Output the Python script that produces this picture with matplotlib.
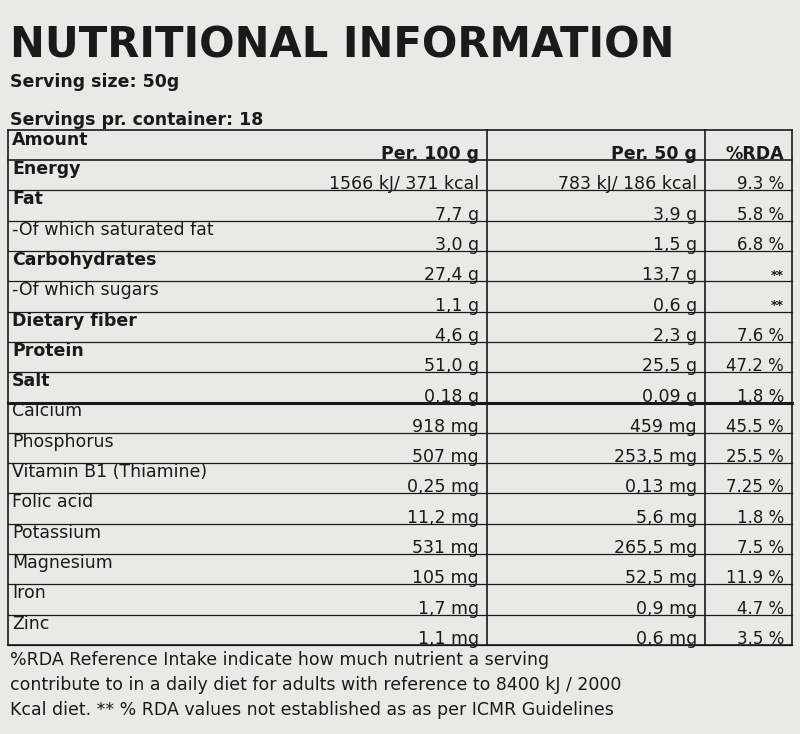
import matplotlib.pyplot as plt

title = "NUTRITIONAL INFORMATION"
serving = ["Serving size: ", "50g"]
servings = ["Servings pr. container: ", "18"]
header = ["Amount", "Per. 100 g", "Per. 50 g", "%RDA"]
labels = ["Energy", "Fat", "-Of which saturated fat", "Carbohydrates", "-Of which sugars",
          "Dietary fiber", "Protein", "Salt", "Calcium", "Phosphorus", "Vitamin B1 (Thiamine)",
          "Folic acid", "Potassium", "Magnesium", "Iron", "Zinc"]
bold_rows = ["Energy", "Fat", "Carbohydrates", "Dietary fiber", "Protein", "Salt"]
per100 = ["1566 kJ/ 371 kcal", "7,7 g", "3,0 g", "27,4 g", "1,1 g", "4,6 g", "51,0 g", "0,18 g",
          "918 mg", "507 mg", "0,25 mg", "11,2 mg", "531 mg", "105 mg", "1,7 mg", "1,1 mg"]
per50 = ["783 kJ/ 186 kcal", "3,9 g", "1,5 g", "13,7 g", "0,6 g", "2,3 g", "25,5 g", "0,09 g",
         "459 mg", "253,5 mg", "0,13 mg", "5,6 mg", "265,5 mg", "52,5 mg", "0,9 mg", "0,6 mg"]
rda = ["9.3 %", "5.8 %", "6.8 %", "**", "**", "7.6 %", "47.2 %", "1.8 %", "45.5 %", "25.5 %",
       "7.25 %", "1.8 %", "7.5 %", "11.9 %", "4.7 %", "3.5 %"]
footnote = ["%RDA Reference Intake indicate how much nutrient a serving",
            "contribute to in a daily diet for adults with reference to 8400 kJ / 2000",
            "Kcal diet. ** % RDA values not established as as per ICMR Guidelines"]

fig = plt.figure(figsize=(8, 7.34), dpi=100, facecolor="#e9e9e7")
ax = fig.add_axes([0, 0, 1, 1])
ax.set_xlim(0, 800); ax.set_ylim(734, 0); ax.axis("off")
c = "#1a1a1a"
fs = 12.5
ax.text(10, 46, title, fontsize=30, fontweight="bold", color=c, va="center")
ax.text(10, 82, serving[0] + serving[1], fontsize=fs, fontweight="bold", color=c, va="center")
ax.text(10, 120, servings[0] + servings[1], fontsize=fs, fontweight="bold", color=c, va="center")

top, hh = 130, 30
h = (645 - 160) / len(labels)
x0, x1, x2, x3 = 8, 487, 705, 792
lw = 1.2
ax.plot([x0, x3], [top, top], color=c, lw=lw)
ax.plot([x0, x3], [645, 645], color=c, lw=lw)
for x in (x0, x1, x2, x3):
    ax.plot([x, x], [top, 645], color=c, lw=lw)
ax.text(12, top + 10, header[0], fontsize=fs, fontweight="bold", color=c, va="center")
for txt, x in zip(header[1:], (x1 - 8, x2 - 8, x3 - 8)):
    ax.text(x, top + 24, txt, fontsize=fs, fontweight="bold", color=c, va="center", ha="right")
ax.plot([x0, x3], [top + hh, top + hh], color=c, lw=lw)
for i, lab in enumerate(labels):
    t = top + hh + i * h
    b = t + h
    ax.text(12, t + 9, lab, fontsize=fs, color=c, va="center",
            fontweight="bold" if lab in bold_rows else "normal")
    ax.text(x1 - 8, b - 6, per100[i], fontsize=fs, color=c, va="center", ha="right")
    ax.text(x2 - 8, b - 6, per50[i], fontsize=fs, color=c, va="center", ha="right")
    ax.text(x3 - 8, b - 6, rda[i], fontsize=12 if rda[i] != "**" else 9, color=c,
            va="center", ha="right", fontweight="bold" if rda[i] == "**" else "normal")
    ax.plot([x0, x3], [b, b], color=c, lw=2.2 if lab == "Salt" else 0.9)
for j, line in enumerate(footnote):
    ax.text(10, 660 + j * 25, line, fontsize=fs, color=c, va="center")
fig.savefig("out.png", dpi=100, facecolor=fig.get_facecolor())
